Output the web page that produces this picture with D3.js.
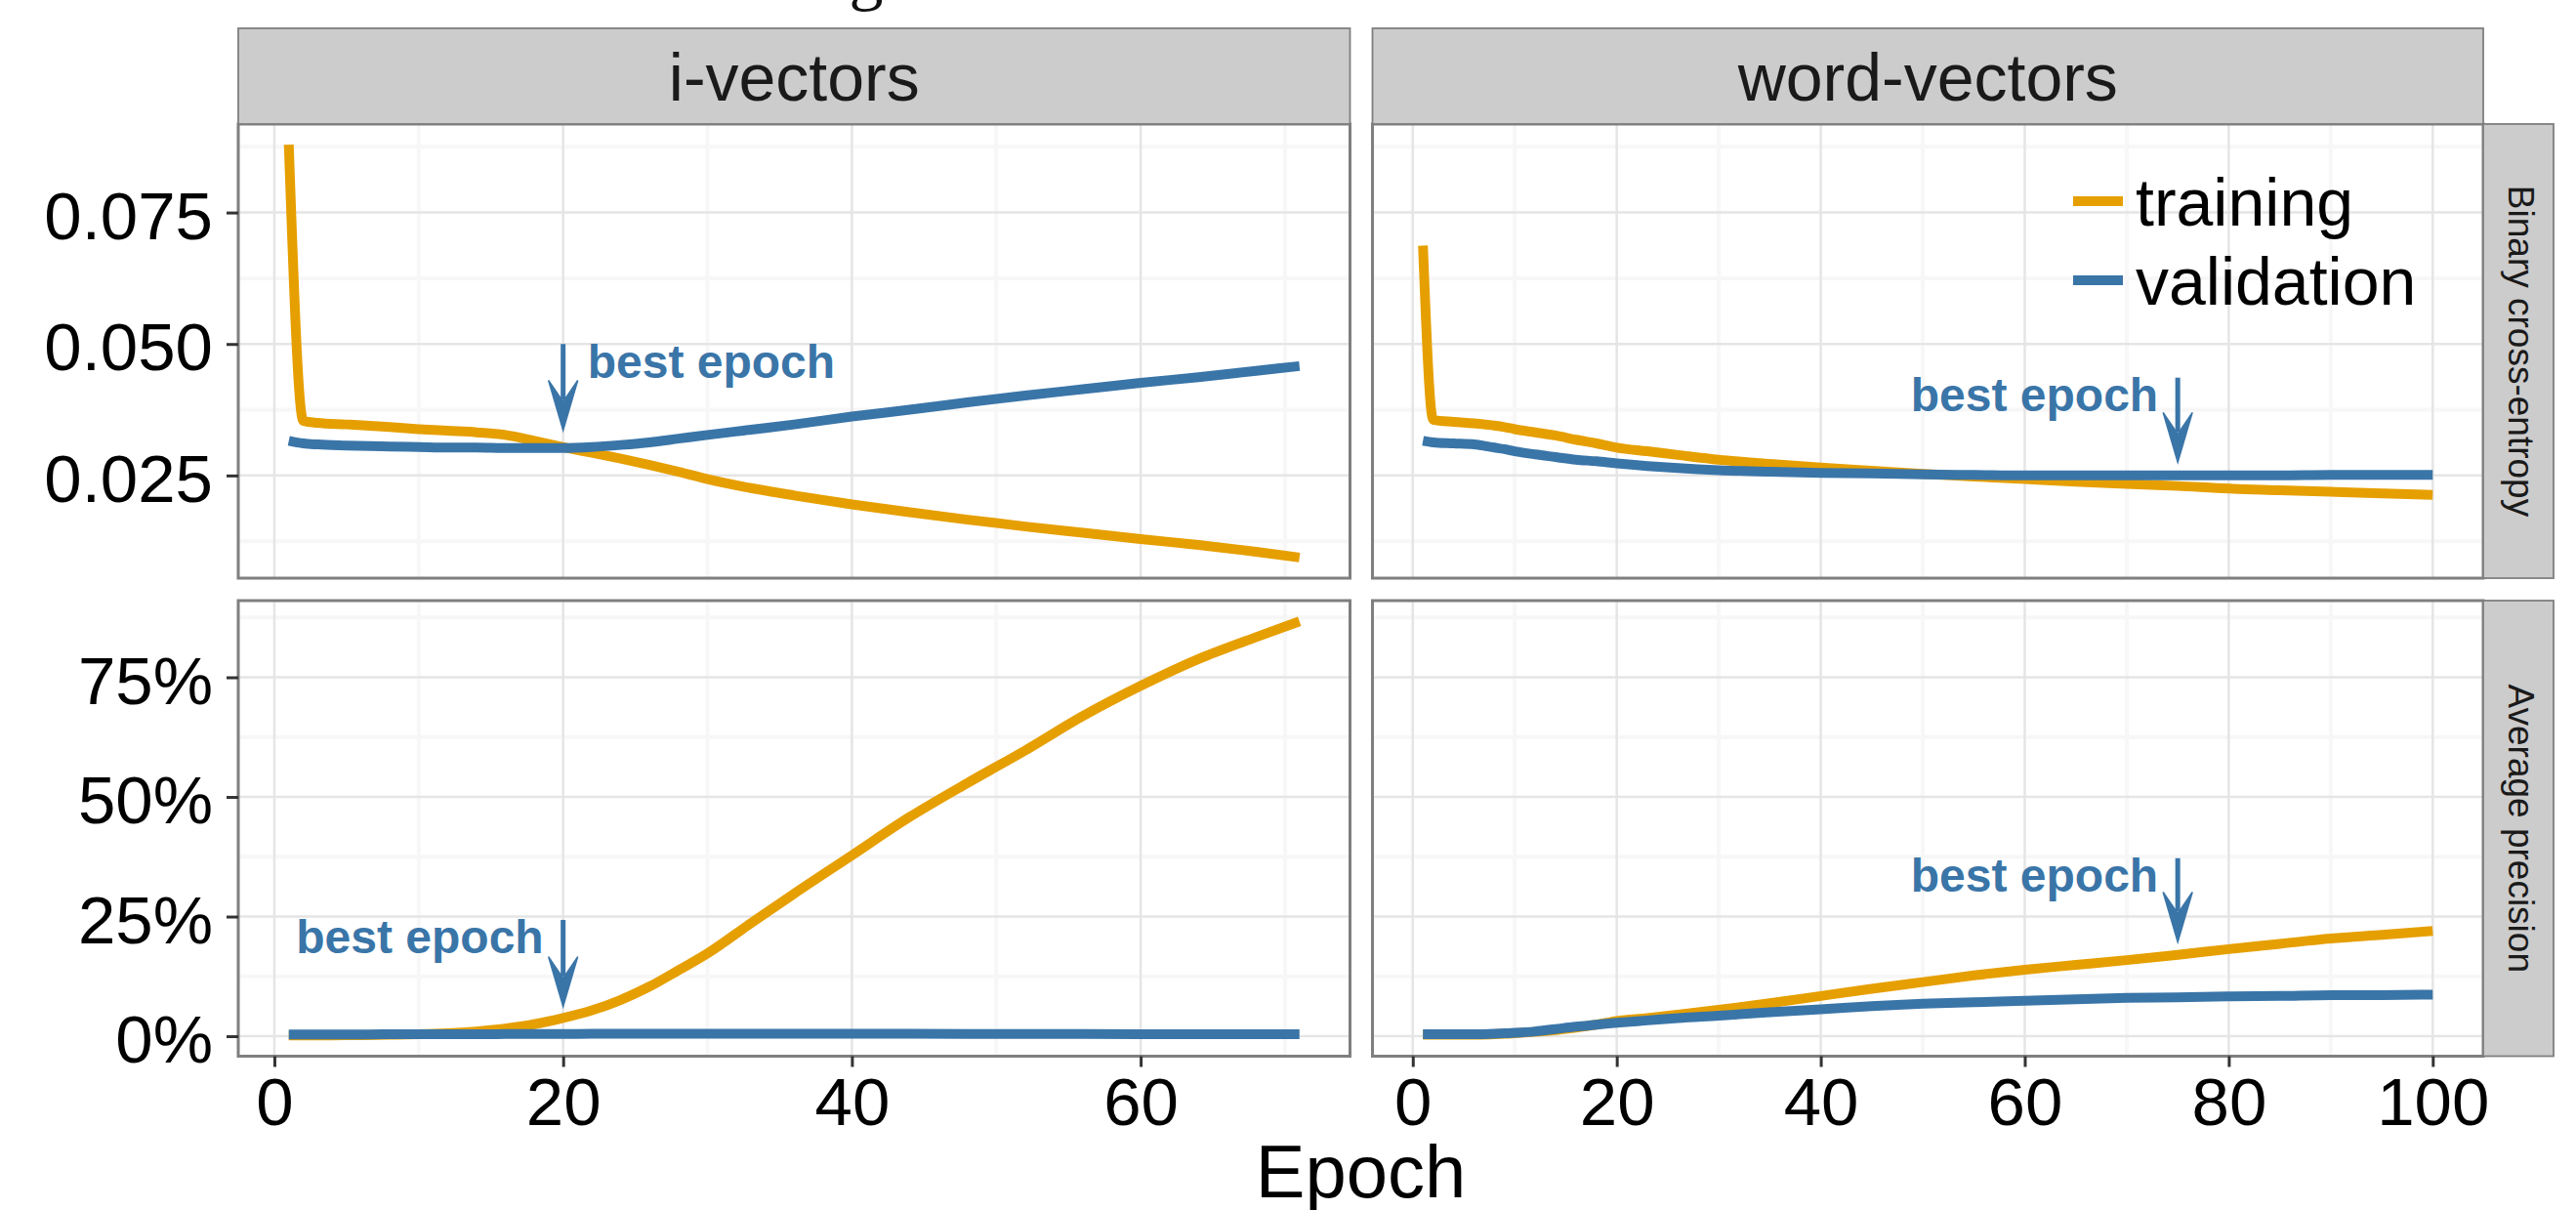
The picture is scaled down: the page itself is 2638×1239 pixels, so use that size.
<!DOCTYPE html>
<html><head><meta charset="utf-8">
<script src="https://cdn.jsdelivr.net/npm/d3@7"></script>
<style>html,body{margin:0;padding:0;background:#fff;} svg{display:block;}</style>
</head><body>
<script>
// ---------------- data ----------------
const columns = ["i-vectors", "word-vectors"];
const rows = ["Binary cross-entropy", "Average precision"];
const seriesNames = ["training", "validation"];
const seriesColors = ["#E69F00", "#3A75A8"];

const ivecEpochs = [1,2,3,5,8,10,12,14,16,18,20,22,24,26,28,30,33,36,40,44,48,52,56,60,64,68,71];
const ivecBceTraining = [0.0879,0.0354,0.0350,0.0347,0.0342,0.0338,0.0335,0.0332,0.0327,0.0316,0.0304,0.0293,0.0282,0.0270,0.0257,0.0243,0.0226,0.0212,0.0195,0.0180,0.0166,0.0153,0.0141,0.0129,0.0118,0.0105,0.0094];
const ivecBceValidation = [0.0316,0.0311,0.0309,0.0307,0.0305,0.0304,0.0303,0.0303,0.0302,0.0302,0.0302,0.0304,0.0308,0.0313,0.0320,0.0327,0.0337,0.0347,0.0362,0.0375,0.0389,0.0402,0.0414,0.0426,0.0437,0.0449,0.0458];
const ivecApTraining = [0.15,0.15,0.15,0.2,0.3,0.4,0.6,1.0,1.6,2.5,3.8,5.4,7.6,10.4,13.8,17.3,23.6,29.8,37.8,45.8,52.9,59.7,66.9,73.2,78.8,83.4,86.7];
const ivecApValidation = [0.35,0.35,0.35,0.35,0.4,0.4,0.4,0.4,0.45,0.45,0.45,0.5,0.5,0.5,0.5,0.5,0.5,0.5,0.5,0.5,0.45,0.45,0.45,0.4,0.4,0.4,0.4];

const wordEpochs = [1,2,4,6,8,9,10,12,14,16,18,20,23,26,30,35,40,45,50,55,60,65,70,75,80,85,90,95,100];
const wordBceTraining = [0.0687,0.0356,0.0352,0.0349,0.0345,0.0342,0.0338,0.0332,0.0326,0.0318,0.0311,0.0303,0.0296,0.0289,0.0280,0.0272,0.0265,0.0259,0.0253,0.0248,0.0243,0.0238,0.0234,0.0230,0.0225,0.0222,0.0219,0.0216,0.0213];
const wordBceValidation = [0.0316,0.0313,0.0311,0.0309,0.0303,0.0300,0.0296,0.0290,0.0285,0.0280,0.0277,0.0273,0.0268,0.0264,0.0260,0.0257,0.0255,0.0254,0.0252,0.0251,0.0250,0.0250,0.0250,0.0250,0.0250,0.0250,0.0251,0.0251,0.0251];
const wordApTraining = [0.3,0.3,0.3,0.3,0.4,0.5,0.6,0.9,1.3,1.8,2.4,3.2,3.8,4.5,5.5,6.9,8.4,9.9,11.3,12.7,13.9,14.9,15.9,17.0,18.2,19.3,20.4,21.2,22.0];
const wordApValidation = [0.4,0.4,0.4,0.4,0.5,0.6,0.7,1.0,1.5,2.0,2.4,2.8,3.3,3.8,4.3,5.0,5.6,6.3,6.8,7.1,7.4,7.7,8.0,8.1,8.3,8.4,8.6,8.6,8.7];

const ivecXTicks = [0, 20, 40, 60];
const wordXTicks = [0, 20, 40, 60, 80, 100];
const ivecXMinor = [10, 30, 50, 70];
const wordXMinor = [10, 30, 50, 70, 90];
const bceYTicks = [0.025, 0.050, 0.075];
const bceYMinor = [0.0125, 0.0375, 0.0625, 0.0875];
const apYTicks = [0, 25, 50, 75];
const apYMinor = [12.5, 37.5, 62.5, 87.5];

const bestEpochs = [20, 75];                           // per column
const bceArrows = [[0.050, 0.0336], [0.0436, 0.0275]]; // [from, to] per column
const apArrows = [[24.3, 6.2], [37.2, 19.7]];
const bceLabelSide = ["right", "left"];
const apLabelSide = ["left", "left"];
const bestLabel = "best epoch";

// ---------------- layout ----------------
const W = 2638, H = 1239;
const colX = [[244, 1382.5], [1405.5, 2543]];
const rowY = [[127, 592], [615, 1081.5]];
const stripTop = 29;
const rowStripX = [2543, 2615];
const FONT = "'Liberation Sans', Arial, Helvetica, sans-serif";
const gridMajor = "#E5E5E5", gridMinor = "#F7F7F7", borderCol = "#7F7F7F";

const panelData = [
  [ {epochs: ivecEpochs, series: [ivecBceTraining, ivecBceValidation]},
    {epochs: wordEpochs, series: [wordBceTraining, wordBceValidation]} ],
  [ {epochs: ivecEpochs, series: [ivecApTraining, ivecApValidation]},
    {epochs: wordEpochs, series: [wordApTraining, wordApValidation]} ]
];
const xTicks = [ivecXTicks, wordXTicks], xMinor = [ivecXMinor, wordXMinor];
const yTicks = [bceYTicks, apYTicks], yMinor = [bceYMinor, apYMinor];
const yFormat = [d3.format(".3f"), d => d3.format("d")(d) + "%"];
const arrows = [bceArrows, apArrows], labelSides = [bceLabelSide, apLabelSide];

function expand(ext) { const r = ext[1] - ext[0]; return [ext[0] - 0.05 * r, ext[1] + 0.05 * r]; }

const xScales = columns.map((c, ci) => d3.scaleLinear()
  .domain(expand(d3.extent(panelData[0][ci].epochs))).range(colX[ci]));
const yScales = rows.map((r, ri) => {
  const all = panelData[ri].flatMap(p => p.series.flat());
  return d3.scaleLinear().domain(expand(d3.extent(all))).range([rowY[ri][1], rowY[ri][0]]);
});

const svg = d3.select("body").append("svg").attr("width", W).attr("height", H)
  .attr("font-family", FONT);
svg.append("rect").attr("width", W).attr("height", H).attr("fill", "#fff");

// cut-off caption fragment above the figure
svg.append("text").attr("x", 887).attr("y", -3).attr("text-anchor", "middle")
  .attr("font-family", "'Liberation Serif', 'DejaVu Serif', serif").attr("font-size", 70)
  .attr("fill", "#111").text("g");

const defs = svg.append("defs");

rows.forEach((rname, ri) => {
  columns.forEach((cname, ci) => {
    const x = xScales[ci], y = yScales[ri];
    const [x0, x1] = colX[ci], [y0, y1] = rowY[ri];
    const g = svg.append("g");
    g.append("rect").attr("x", x0).attr("y", y0).attr("width", x1 - x0).attr("height", y1 - y0).attr("fill", "#fff");
    // minor grid
    g.selectAll(".vmin").data(xMinor[ci]).join("line")
      .attr("x1", d => x(d)).attr("x2", d => x(d)).attr("y1", y0).attr("y2", y1)
      .attr("stroke", gridMinor).attr("stroke-width", 4);
    g.selectAll(".hmin").data(yMinor[ri]).join("line")
      .attr("y1", d => y(d)).attr("y2", d => y(d)).attr("x1", x0).attr("x2", x1)
      .attr("stroke", gridMinor).attr("stroke-width", 4);
    // major grid
    g.selectAll(".vmaj").data(xTicks[ci]).join("line")
      .attr("x1", d => x(d)).attr("x2", d => x(d)).attr("y1", y0).attr("y2", y1)
      .attr("stroke", gridMajor).attr("stroke-width", 2.5);
    g.selectAll(".hmaj").data(yTicks[ri]).join("line")
      .attr("y1", d => y(d)).attr("y2", d => y(d)).attr("x1", x0).attr("x2", x1)
      .attr("stroke", gridMajor).attr("stroke-width", 2.5);

    // clip
    const cid = `clip-${ri}-${ci}`;
    defs.append("clipPath").attr("id", cid).append("rect")
      .attr("x", x0).attr("y", y0).attr("width", x1 - x0).attr("height", y1 - y0);
    const pd = panelData[ri][ci];
    const line = d3.line().curve(d3.curveMonotoneX).x(d => x(d[0])).y(d => y(d[1]));
    const lg = g.append("g").attr("clip-path", `url(#${cid})`);
    pd.series.forEach((vals, si) => {
      lg.append("path").datum(pd.epochs.map((e, i) => [e, vals[i]]))
        .attr("d", line).attr("fill", "none").attr("stroke", seriesColors[si])
        .attr("stroke-width", 10).attr("stroke-linejoin", "round").attr("stroke-linecap", "butt");
    });

    // best-epoch annotation
    const be = bestEpochs[ci], [ya, yb] = arrows[ri][ci];
    const ax = x(be), ay0 = y(ya), ay1 = y(yb);
    const headLen = 51, headW = 15, notch = 29;
    const acol = seriesColors[1];
    g.append("line").attr("x1", ax).attr("x2", ax).attr("y1", ay0).attr("y2", ay1 - notch - 2)
      .attr("stroke", acol).attr("stroke-width", 5);
    g.append("path")
      .attr("d", `M${ax},${ay1} L${ax - headW},${ay1 - headLen} L${ax},${ay1 - notch} L${ax + headW},${ay1 - headLen} Z`)
      .attr("fill", acol).attr("stroke", acol).attr("stroke-width", 1.5).attr("stroke-linejoin", "miter");
    const side = labelSides[ri][ci];
    g.append("text")
      .attr("x", side === "right" ? ax + 25 : ax - 20)
      .attr("y", ay0 + 34.5)
      .attr("text-anchor", side === "right" ? "start" : "end")
      .attr("font-size", 48).attr("font-weight", "bold").attr("fill", acol)
      .text(bestLabel);

    // border
    g.append("rect").attr("x", x0).attr("y", y0).attr("width", x1 - x0).attr("height", y1 - y0)
      .attr("fill", "none").attr("stroke", borderCol).attr("stroke-width", 3);
  });
});

// column strips
columns.forEach((cname, ci) => {
  const [x0, x1] = colX[ci];
  svg.append("rect").attr("x", x0).attr("y", stripTop).attr("width", x1 - x0).attr("height", rowY[0][0] - stripTop)
    .attr("fill", "#CCCCCC").attr("stroke", borderCol).attr("stroke-width", 1.8);
  svg.append("text").attr("x", (x0 + x1) / 2).attr("y", stripTop + 74).attr("text-anchor", "middle")
    .attr("font-size", 68).attr("fill", "#1A1A1A").text(cname);
});
// row strips
rows.forEach((rname, ri) => {
  const [y0, y1] = rowY[ri];
  svg.append("rect").attr("x", rowStripX[0]).attr("y", y0).attr("width", rowStripX[1] - rowStripX[0]).attr("height", y1 - y0)
    .attr("fill", "#CCCCCC").attr("stroke", borderCol).attr("stroke-width", 1.8);
  svg.append("text").attr("transform", `translate(${rowStripX[0] + 26},${(y0 + y1) / 2}) rotate(90)`)
    .attr("text-anchor", "middle").attr("font-size", 37).attr("fill", "#1A1A1A").text(rname);
});

// y axes (left column)
rows.forEach((rname, ri) => {
  const ax = svg.append("g").attr("transform", `translate(${colX[0][0]},0)`)
    .call(d3.axisLeft(yScales[ri]).tickValues(yTicks[ri]).tickFormat(yFormat[ri]).tickSize(12).tickPadding(14).tickSizeOuter(0));
  ax.select(".domain").remove();
  ax.selectAll(".tick line").attr("stroke", "#333").attr("stroke-width", 3);
  ax.selectAll(".tick text").attr("font-size", 69).attr("fill", "#000").attr("dy", "0.385em").attr("font-family", FONT);
});
// x axes (bottom row)
columns.forEach((cname, ci) => {
  const ax = svg.append("g").attr("transform", `translate(0,${rowY[1][1]})`)
    .call(d3.axisBottom(xScales[ci]).tickValues(xTicks[ci]).tickSize(11).tickPadding(11).tickSizeOuter(0));
  ax.select(".domain").remove();
  ax.selectAll(".tick line").attr("stroke", "#333").attr("stroke-width", 3);
  ax.selectAll(".tick text").attr("font-size", 69).attr("fill", "#000").attr("font-family", FONT);
});

// x-axis title
svg.append("text").attr("x", (colX[0][0] + colX[1][1]) / 2).attr("y", 1226).attr("text-anchor", "middle")
  .attr("font-size", 76).attr("fill", "#000").text("Epoch");

// legend (inside top-right panel)
const legX = 2123, legKeyW = 51, legY = [206, 287];
seriesNames.forEach((s, si) => {
  svg.append("line").attr("x1", legX).attr("x2", legX + legKeyW).attr("y1", legY[si]).attr("y2", legY[si])
    .attr("stroke", seriesColors[si]).attr("stroke-width", 10);
  svg.append("text").attr("x", legX + 64).attr("y", legY[si] + 25).attr("font-size", 68).attr("fill", "#000").text(s);
});
</script>
</body></html>
